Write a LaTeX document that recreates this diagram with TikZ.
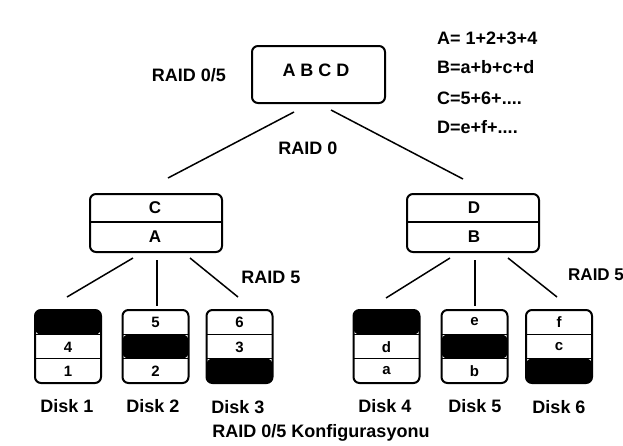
\documentclass[tikz,border=0pt]{standalone}
\usepackage{fontspec}
\setmainfont{Liberation Sans}
\tikzset{
  lbl/.style={inner sep=0pt, font=\fontsize{18}{20}\selectfont\bfseries},
  cell/.style={inner sep=0pt, font=\fontsize{15}{17}\selectfont\bfseries},
  midtxt/.style={inner sep=0pt, font=\fontsize{17}{19}\selectfont\bfseries},
  frame/.style={draw, line width=2pt, rectangle, rounded corners=6pt, inner sep=0pt},
  topbox/.style={frame, minimum width=133pt, minimum height=57pt},
  midbox/.style={frame, minimum width=132pt, minimum height=58pt,
    path picture={\draw[line width=2pt] ([yshift=-28pt]path picture bounding box.north west) -- ([yshift=-28pt]path picture bounding box.north east);}},
  diskbox/.style={frame, minimum width=66pt, minimum height=73pt},
  rows/.style={path picture={
     \draw[line width=1.6pt] ([yshift=-24.5pt]path picture bounding box.north west) -- ([yshift=-24.5pt]path picture bounding box.north east);
     \draw[line width=1.6pt] ([yshift=-48.5pt]path picture bounding box.north west) -- ([yshift=-48.5pt]path picture bounding box.north east);
     #1}},
  blacktop/.style={rows={\fill (path picture bounding box.north west) rectangle ([yshift=-24.5pt]path picture bounding box.north east);}},
  blackmid/.style={rows={\fill ([yshift=-24.5pt]path picture bounding box.north west) rectangle ([yshift=-48.5pt]path picture bounding box.north east);}},
  blackbot/.style={rows={\fill ([yshift=-48.5pt]path picture bounding box.north west) rectangle (path picture bounding box.south east);}},
  conn/.style={line width=1.5pt},
}
\begin{document}
\begin{tikzpicture}[x=1pt,y=-1pt]
\useasboundingbox (0,0) rectangle (623,445);
\fill[white] (0,0) rectangle (623,445);

% top box
\node[topbox] (top) at (318.5,74.5) {};
\node[lbl] (topt) at (316,70) {A B C D};
\node[lbl] (r05) at (189,75) {RAID 0/5};

% formulas
\node[lbl, anchor=west] (f1) at (437,38) {A= 1+2+3+4};
\node[lbl, anchor=west] (f2) at (437,67) {B=a+b+c+d};
\node[lbl, anchor=west] (f3) at (437,98) {C=5+6+....};
\node[lbl, anchor=west] (f4) at (437,127) {D=e+f+....};

% middle boxes
\node[midbox] (lb) at (156,223) {};
\node[midtxt] (lbC) at (155,208) {C};
\node[midtxt] (lbA) at (155,237) {A};
\node[midbox] (rb) at (473,223) {};
\node[midtxt] (rbD) at (474,208) {D};
\node[midtxt] (rbB) at (474,237) {B};

% top connectors
\coordinate (t1) at (294,112); \coordinate (t1e) at (168,178);
\coordinate (t2) at (331,110); \coordinate (t2e) at (463,179);
\draw[conn] (t1) -- (t1e);
\draw[conn] (t2) -- (t2e);
\node[lbl] (r0) at (308,148) {RAID 0};

% disks
\node[diskbox, blacktop] (d1) at (68,346.5) {};
\node[diskbox, blackmid] (d2) at (155.5,346.5) {};
\node[diskbox, blackbot] (d3) at (239.5,346.5) {};
\node[diskbox, blacktop] (d4) at (386.5,346.5) {};
\node[diskbox, blackmid] (d5) at (474.5,346.5) {};
\node[diskbox, blackbot] (d6) at (559,346.5) {};

\node[cell] (c14) at (68,347) {4};
\node[cell] (c11) at (68,371) {1};
\node[cell] (c25) at (155.5,322) {5};
\node[cell] (c22) at (155.5,371) {2};
\node[cell] (c36) at (239.5,322) {6};
\node[cell] (c33) at (239.5,347) {3};
\node[cell] (c4d) at (386.5,347) {d};
\node[cell] (c4a) at (386.5,371) {a};
\node[cell] (c5e) at (474.5,322) {e};
\node[cell] (c5b) at (474.5,371) {b};
\node[cell] (c6f) at (559,322) {f};
\node[cell] (c6c) at (559,347) {c};

% lower connectors
\coordinate (l1) at (133,258); \coordinate (l1e) at (67,297);
\coordinate (l2) at (157,260); \coordinate (l2e) at (157,306);
\coordinate (l3) at (190,258); \coordinate (l3e) at (238,297);
\coordinate (m1) at (450,258); \coordinate (m1e) at (386,298);
\coordinate (m2) at (475,260); \coordinate (m2e) at (475,306);
\coordinate (m3) at (508,258); \coordinate (m3e) at (557,297);
\draw[conn] (l1) -- (l1e);
\draw[conn, line width=2.2pt] (l2) -- (l2e);
\draw[conn] (l3) -- (l3e);
\draw[conn] (m1) -- (m1e);
\draw[conn, line width=2.2pt] (m2) -- (m2e);
\draw[conn] (m3) -- (m3e);
\node[lbl] (r5l) at (271,277) {RAID 5};
\node[lbl, anchor=west, font=\fontsize{17}{19}\selectfont\bfseries] (r5r) at (568,275) {RAID 5};

% disk labels
\node[lbl] (k1) at (67,406) {Disk 1};
\node[lbl] (k2) at (153,406) {Disk 2};
\node[lbl] (k3) at (238,407) {Disk 3};
\node[lbl] (k4) at (385,406) {Disk 4};
\node[lbl] (k5) at (475,406) {Disk 5};
\node[lbl] (k6) at (559,407) {Disk 6};

\node[lbl] (title) at (321,433) {RAID 0/5 Konfigurasyonu};
\end{tikzpicture}
\end{document}
